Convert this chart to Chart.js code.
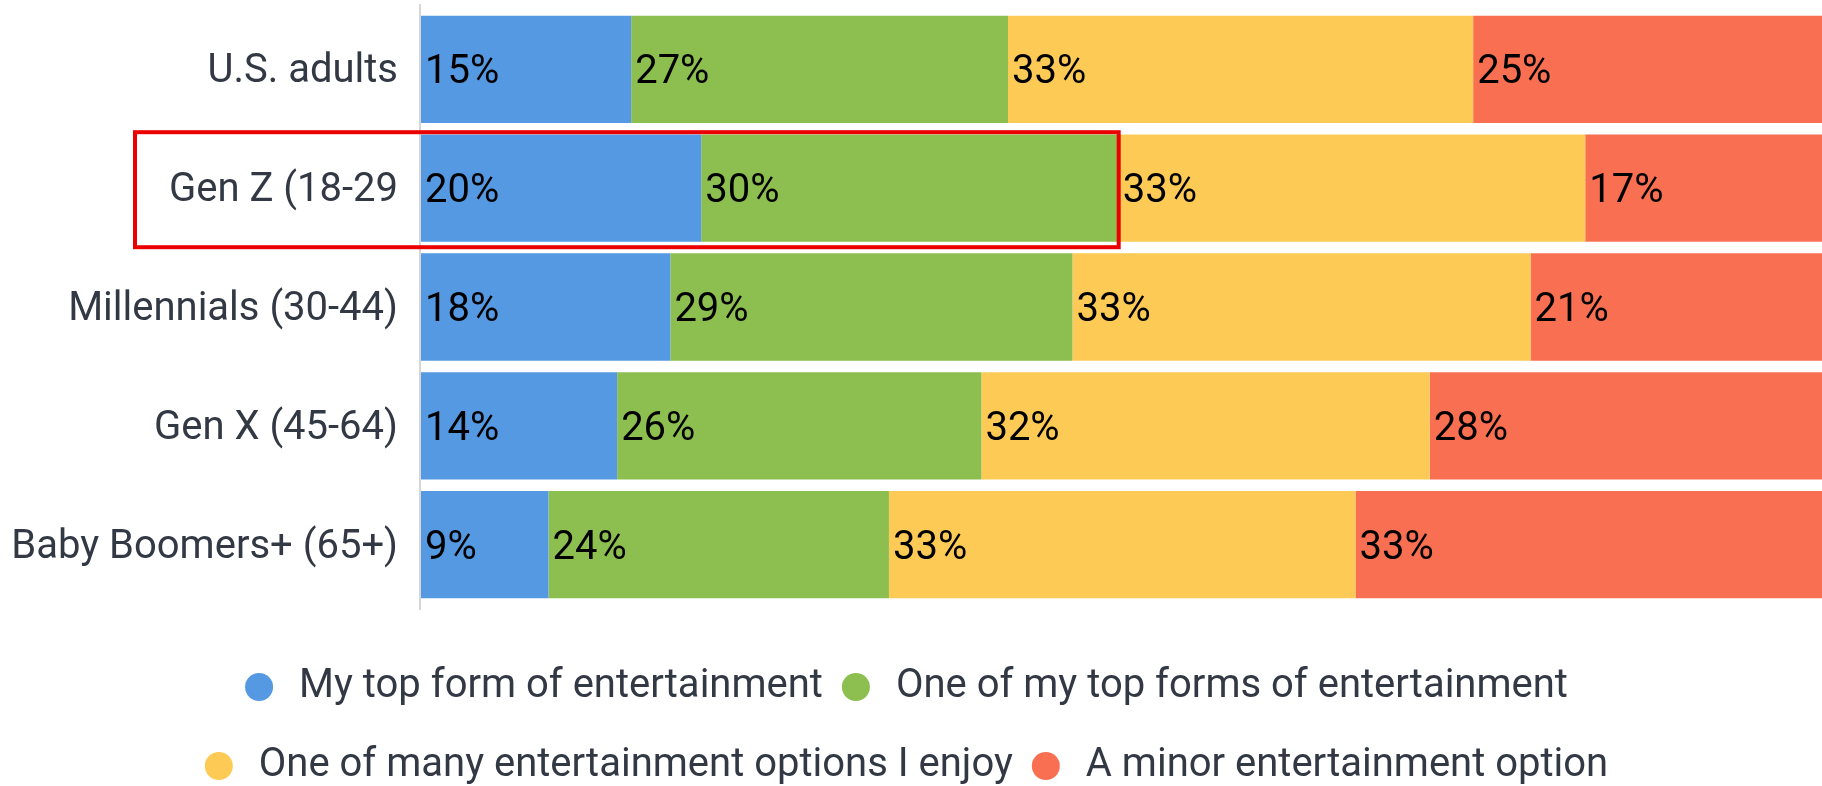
<!DOCTYPE html>
<html>
<head>
<meta charset="utf-8">
<script src="https://cdn.jsdelivr.net/npm/chart.js@4.4.1/dist/chart.umd.min.js"></script>
<style>
html,body{margin:0;padding:0;background:#ffffff;}
canvas{display:block;}
</style>
</head>
<body>
<canvas id="c" width="1822" height="786"></canvas>
<script>
// ---- data ----
const categories = ['U.S. adults', 'Gen Z (18-29', 'Millennials (30-44)', 'Gen X (45-64)', 'Baby Boomers+ (65+)'];
const seriesNames = ['My top form of entertainment', 'One of my top forms of entertainment', 'One of many entertainment options I enjoy', 'A minor entertainment option'];
const topForm     = [15.0, 20.0, 17.8, 14.0, 9.1];
const oneOfTop    = [26.9, 29.8, 28.7, 26.0, 24.3];
const manyOptions = [33.2, 33.3, 32.7, 32.0, 33.3];
const minorOption = [24.9, 16.9, 20.8, 28.0, 33.3];
const highlightIndex = 1; // Gen Z row, first two segments highlighted

// ---- styles ----
const colors = ['#5699E3', '#8CBF4F', '#FDCB55', '#F96F52'];
const textColor = '#333944';
const fontFamily = 'Roboto, "Noto Sans", sans-serif';

const seriesValues = [topForm, oneOfTop, manyOptions, minorOption];

const axisLinePlugin = {
  id: 'axisLine',
  beforeDatasetsDraw(chart) {
    const {ctx, chartArea: ca} = chart;
    ctx.save();
    ctx.strokeStyle = '#d6d6d6';
    ctx.lineWidth = 2;
    ctx.beginPath();
    ctx.moveTo(ca.left - 1, ca.top - 6);
    ctx.lineTo(ca.left - 1, ca.bottom + 6);
    ctx.stroke();
    ctx.restore();
  }
};

const valueLabelPlugin = {
  id: 'valueLabels',
  afterDatasetsDraw(chart) {
    const {ctx} = chart;
    ctx.save();
    ctx.font = '40px ' + fontFamily;
    ctx.fillStyle = '#000000';
    ctx.textAlign = 'left';
    ctx.textBaseline = 'middle';
    chart.data.datasets.forEach((ds, di) => {
      const meta = chart.getDatasetMeta(di);
      meta.data.forEach((bar, i) => {
        const left = Math.min(bar.x, bar.base);
        ctx.fillText(Math.round(ds.data[i]) + '%', left + 4, bar.y + 4);
      });
    });
    ctx.restore();
  }
};

const highlightPlugin = {
  id: 'highlight',
  afterDraw(chart) {
    const {ctx, chartArea: ca, scales} = chart;
    const yc = scales.y.getPixelForValue(highlightIndex) + 1.5;
    const right = scales.x.getPixelForValue(topForm[highlightIndex] + oneOfTop[highlightIndex]);
    const left = ca.left - 286;
    ctx.save();
    ctx.strokeStyle = '#ea0000';
    ctx.lineWidth = 4;
    ctx.strokeRect(left, yc - 57.5, right - left, 115);
    ctx.restore();
  }
};

const legendDotPlugin = {
  id: 'legendDots',
  afterDraw(chart) {
    const legend = chart.legend;
    if (!legend || !legend.legendHitBoxes) return;
    const {ctx} = chart;
    ctx.save();
    legend.legendHitBoxes.forEach((hb, i) => {
      const item = legend.legendItems[i];
      ctx.fillStyle = item.realColor;
      ctx.beginPath();
      ctx.arc(hb.left + 14, hb.top + hb.height / 2, 14, 0, Math.PI * 2);
      ctx.fill();
    });
    ctx.restore();
  }
};

new Chart(document.getElementById('c'), {
  type: 'bar',
  data: {
    labels: categories,
    datasets: seriesNames.map((name, i) => ({
      label: name,
      data: seriesValues[i],
      backgroundColor: colors[i],
      borderWidth: 0,
      barPercentage: 0.903,
      categoryPercentage: 1.0
    }))
  },
  options: {
    indexAxis: 'y',
    responsive: false,
    devicePixelRatio: 1,
    animation: false,
    layout: { padding: { top: 10, bottom: -20, left: -9, right: 0 } },
    scales: {
      x: {
        stacked: true,
        min: 0,
        max: 100,
        display: true,
        ticks: { display: false },
        grid: { display: false, drawTicks: false },
        border: { display: false },
        afterFit(s) { s.height = 34; s.paddingLeft = 0; s.paddingRight = 0; }
      },
      y: {
        stacked: true,
        grid: { display: false, drawTicks: false },
        border: { display: false },
        ticks: {
          padding: 23,
          labelOffset: 3,
          color: textColor,
          font: { family: fontFamily, size: 40 }
        },
        afterFit(s) { s.width = 430; s.paddingTop = 0; s.paddingBottom = 0; }
      }
    },
    plugins: {
      tooltip: { enabled: false },
      legend: {
        position: 'bottom',
        align: 'center',
        labels: {
          color: textColor,
          font: { family: fontFamily, size: 40 },
          boxWidth: 34,
          boxHeight: 60,
          padding: 19,
          generateLabels(chart) {
            const items = Chart.defaults.plugins.legend.labels.generateLabels(chart);
            items.forEach(it => {
              it.realColor = it.fillStyle;
              it.fillStyle = 'rgba(0,0,0,0)';
              it.strokeStyle = 'rgba(0,0,0,0)';
              it.lineWidth = 0;
            });
            return items;
          }
        }
      }
    }
  },
  plugins: [axisLinePlugin, valueLabelPlugin, highlightPlugin, legendDotPlugin]
});
</script>
</body>
</html>
